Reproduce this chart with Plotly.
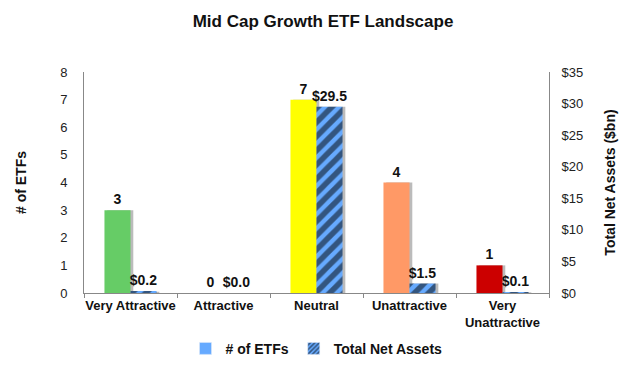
import plotly.graph_objects as go
from plotly.subplots import make_subplots

categories = ["Very Attractive", "Attractive", "Neutral", "Unattractive", "Very<br>Unattractive"]
num_etfs = [3, 0, 7, 4, 1]
net_assets = [0.2, 0.0, 29.5, 1.5, 0.1]
etf_labels = ["3", "0", "7", "4", "1"]
asset_labels = ["$0.2", "$0.0", "$29.5", "$1.5", "$0.1"]
bar_colors = ["#66CC66", "#BBBBBB", "#FFFF00", "#FF9966", "#CC0000"]

FONT = "Liberation Sans, Arial, sans-serif"
W = 0.28
SH = 0.03  # shadow offset in category units

fig = make_subplots(specs=[[{"secondary_y": True}]])

# shadows
fig.add_trace(go.Bar(x=categories, y=num_etfs, width=W, offset=-W + SH,
                     marker=dict(color="rgba(120,120,120,0.5)", line_width=0),
                     showlegend=False, hoverinfo="skip"), secondary_y=False)
fig.add_trace(go.Bar(x=categories, y=net_assets, width=W, offset=SH,
                     marker=dict(color="rgba(120,120,120,0.5)", line_width=0),
                     showlegend=False, hoverinfo="skip"), secondary_y=True)

fig.add_trace(go.Bar(x=categories, y=num_etfs, width=W, offset=-W,
                     marker=dict(color=bar_colors, line_width=0),
                     text=["<b>%s</b>" % t for t in etf_labels], textposition="outside",
                     cliponaxis=False, constraintext="none",
                     textfont=dict(family=FONT, size=14, color="#111111"),
                     showlegend=False, name="# of ETFs"), secondary_y=False)
fig.add_trace(go.Bar(x=categories, y=net_assets, width=W, offset=0,
                     marker=dict(color="#66AAFF", line_width=0,
                                 pattern=dict(shape="/", fgcolor="#000000", bgcolor="#66AAFF",
                                              size=10, solidity=0.55)),
                     text=["<b>%s</b>" % t for t in asset_labels], textposition="outside",
                     cliponaxis=False, constraintext="none",
                     textfont=dict(family=FONT, size=14, color="#111111"),
                     showlegend=False, name="Total Net Assets"), secondary_y=True)

# legend entries
fig.add_trace(go.Bar(x=[None], y=[None], name="<b># of ETFs</b>",
                     marker=dict(color="#66AAFF")), secondary_y=False)
fig.add_trace(go.Bar(x=[None], y=[None], name="<b>Total Net Assets</b>",
                     marker=dict(color="#66AAFF",
                                 pattern=dict(shape="/", fgcolor="#000000", bgcolor="#66AAFF",
                                              size=4, solidity=0.5))), secondary_y=True)

fig.update_layout(
    width=630, height=369,
    margin=dict(l=76, r=89, t=64, b=75),
    paper_bgcolor="white", plot_bgcolor="white",
    barmode="overlay",
    title=dict(text="<b>Mid Cap Growth ETF Landscape</b>", x=0.5, xanchor="center",
               yref="container", y=1 - 13 / 369, yanchor="middle",
               font=dict(family=FONT, size=17, color="#111111")),
    font=dict(family=FONT, size=12, color="#222222"),
    legend=dict(orientation="h", x=0.5, xanchor="center", y=-0.18, yanchor="top",
                font=dict(family=FONT, size=14, color="#111111"),
                itemwidth=30, traceorder="normal"),
    showlegend=True,
    xaxis=dict(domain=[0, 1]),
)
fig.update_xaxes(showline=True, linecolor="#888888", linewidth=1, tickangle=0,
                 ticks="outside", tickson="boundaries", ticklen=4, tickcolor="#888888",
                 tickfont=dict(family=FONT, size=13, color="#111111"),
                 tickprefix="<b>", ticksuffix="</b>", showgrid=False, automargin=False)
fig.update_yaxes(range=[0, 8], dtick=1, showline=True, linecolor="#888888",
                 ticks="", showgrid=False, zeroline=False, ticklabelstandoff=13,
                 tickfont=dict(size=13, color="#222222"), automargin=False,
                 title=dict(text="<b># of ETFs</b>", font=dict(size=14, color="#111111"), standoff=30),
                 secondary_y=False)
fig.update_yaxes(range=[0, 35], dtick=5, tickprefix="$", showline=True, linecolor="#888888",
                 ticks="", showgrid=False, zeroline=False, ticklabelstandoff=9,
                 tickfont=dict(size=13, color="#222222"), automargin=False,
                 title=dict(text="<b>Total Net Assets ($bn)</b>", font=dict(size=14, color="#111111"), standoff=22),
                 secondary_y=True)

fig.write_html("out.html")
